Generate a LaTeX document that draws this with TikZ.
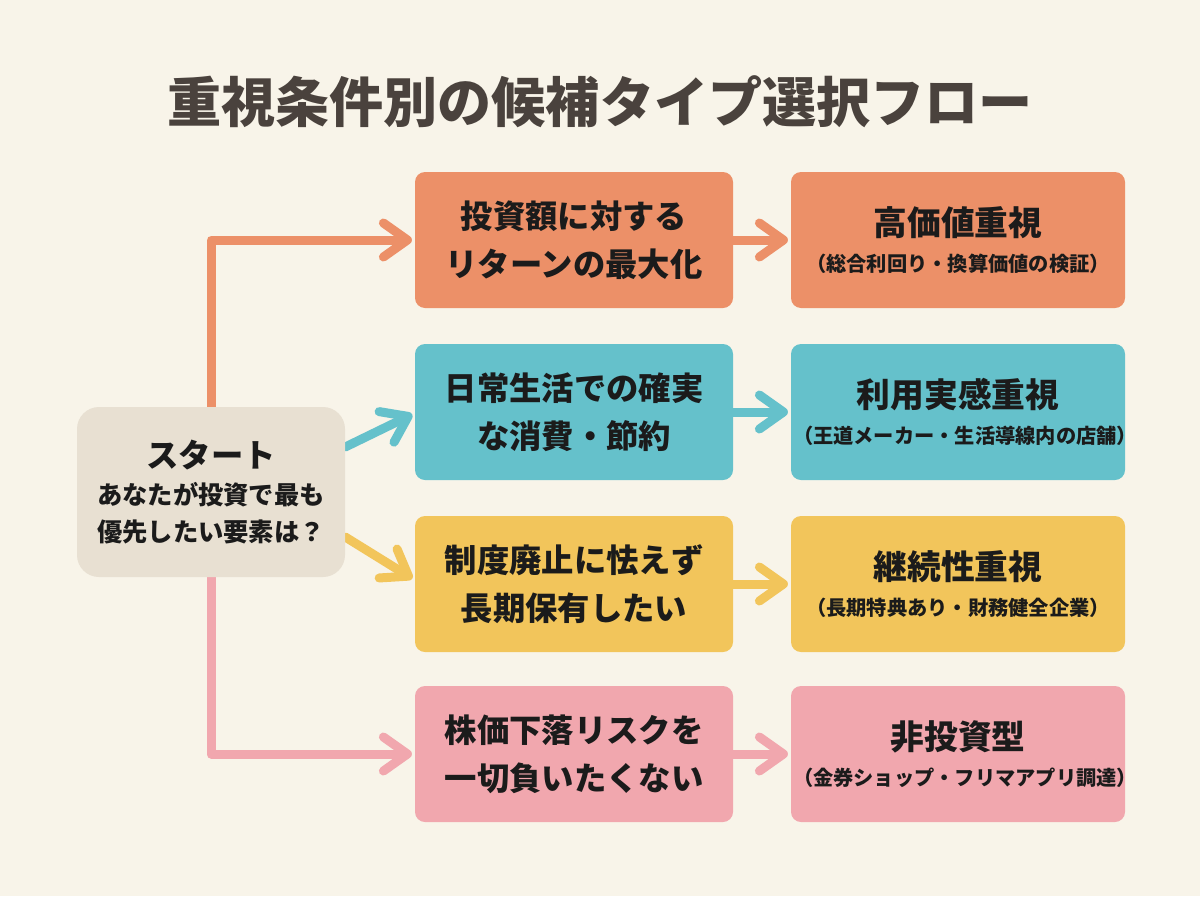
\documentclass[tikz,border=0pt]{standalone}
\usepackage{fontspec}
\setmainfont{Noto Sans CJK JP}
\usepackage{xcolor}
\usepackage{tikz}
\usetikzlibrary{arrows.meta,backgrounds}
\definecolor{flowPaper}{HTML}{F8F4E9}
\definecolor{flowInk}{HTML}{1B1B1B}
\definecolor{flowTitle}{HTML}{4A423D}
\definecolor{flowStart}{HTML}{E8E0D2}
\definecolor{flowOrange}{HTML}{EC9068}
\definecolor{flowTeal}{HTML}{65C1CB}
\definecolor{flowYellow}{HTML}{F2C55B}
\definecolor{flowPink}{HTML}{F1A7AE}
\tikzset{
    flow/title/.style={
        font=\fontsize{38.5}{42}\selectfont\bfseries, text=flowTitle
    },
    flow/start/.style={
        rectangle, rounded corners=5.5mm, fill=flowStart,
        text=flowInk, align=center,
        font=\fontsize{18}{26.5}\selectfont\bfseries,
        minimum width=6.7cm, minimum height=4.25cm, inner sep=0pt
    },
    flow/choice/.style={
        rectangle, rounded corners=2.5mm,
        text=flowInk, align=center,
        font=\fontsize{23}{34}\selectfont\bfseries,
        minimum width=7.95cm, minimum height=3.4cm, inner sep=0pt
    },
    flow/result/.style={
        flow/choice, text width=8.25cm, inner xsep=0.05cm,
        font=\fontsize{24}{26}\selectfont\bfseries
    },
    flow/arrow/.style={
        line width=6.4pt, line cap=round, line join=round,
        -{Straight Barb[length=0.6cm,width=0.85cm,round]},
        shorten >=2pt
    }
}
\newcommand{\resulttext}[2]{%
    #1\\[0pt]\fontsize{14.4}{18}\selectfont #2}

\begin{document}
\begin{tikzpicture}
    \useasboundingbox (0,0) rectangle (30,-22.4);

    \node[flow/title] (title) at (15,-2.55) {重視条件別の候補タイプ選択フロー};

    \node[flow/start] (start) at (5.275,-12.3)
        {\fontsize{23}{30}\selectfont スタート\\[0pt]
         あなたが投資で最も\\優先したい要素は？};

    \node[flow/choice, fill=flowOrange] (ret) at (14.35,-6.0)
        {投資額に対する\\リターンの最大化};
    \node[flow/choice, fill=flowTeal] (use) at (14.35,-10.3)
        {日常生活での確実\\な消費・節約};
    \node[flow/choice, fill=flowYellow] (hold) at (14.35,-14.6)
        {制度廃止に怯えず\\長期保有したい};
    \node[flow/choice, fill=flowPink] (safe) at (14.35,-18.85)
        {株価下落リスクを\\一切負いたくない};

    \node[flow/result, fill=flowOrange] (value) at (23.95,-6.0)
        {\resulttext{高価値重視}{（総合利回り・換算価値の検証）}};
    \node[flow/result, fill=flowTeal] (usage) at (23.95,-10.3)
        {\resulttext{利用実感重視}{（王道メーカー・生活導線内の店舗）}};
    \node[flow/result, fill=flowYellow] (cont) at (23.95,-14.6)
        {\resulttext{継続性重視}{（長期特典あり・財務健全企業）}};
    \node[flow/result, fill=flowPink] (noinv) at (23.95,-18.85)
        {\resulttext{非投資型}{（金券ショップ・フリマアプリ調達）}};

    \begin{scope}[on background layer]
        \fill[flowPaper] (0,0) rectangle (30,-22.4);
        \draw[flow/arrow, draw=flowOrange] (start.north) |- (ret.west);
        \draw[flow/arrow, draw=flowTeal]
            ([yshift=1.125cm]start.east) -- ([yshift=-0.03cm]use.west);
        \draw[flow/arrow, draw=flowYellow]
            ([yshift=-1.125cm]start.east) -- ([yshift=0.1cm]hold.west);
        \draw[flow/arrow, draw=flowPink] (start.south) |- (safe.west);
    \end{scope}

    \draw[flow/arrow, draw=flowOrange] (ret) -- (value);
    \draw[flow/arrow, draw=flowTeal] (use) -- (usage);
    \draw[flow/arrow, draw=flowYellow] (hold) -- (cont);
    \draw[flow/arrow, draw=flowPink] (safe) -- (noinv);
\end{tikzpicture}
\end{document}
